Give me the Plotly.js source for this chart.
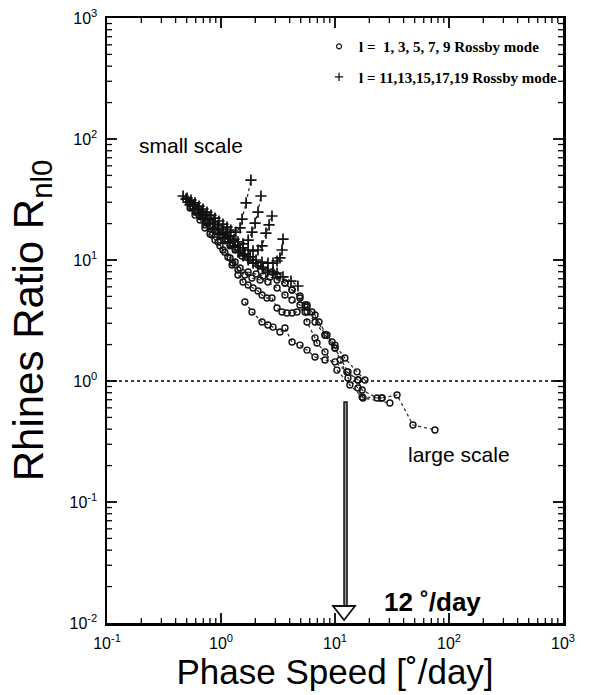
<!DOCTYPE html>
<html>
<head>
<meta charset="utf-8">
<script src="https://cdn.plot.ly/plotly-3.0.1.min.js"></script>
<style>html,body{margin:0;padding:0;background:#fff;}#chart{width:592px;height:695px;}</style>
</head>
<body>
<div id="chart"></div>
<script>
// ---- data: l = 1,3,5,7,9 Rossby modes (open circles) ----
var c1x = [1.62,1.87,2.29,2.58,2.86,3.29,3.64,4.20,4.93,5.68,6.68,8.17,10.0,12.7,15.9,17.3,23.4,25.8,35.0,48.3,75.3];
var c1y = [4.50,3.72,3.07,2.90,2.79,2.54,2.74,2.10,1.98,1.80,1.58,1.49,1.44,1.19,1.02,0.843,0.724,0.724,0.766,0.433,0.394];
var c2x = [1.25,1.41,1.56,1.73,1.91,2.11,2.29,2.53,2.80,3.10,3.43,3.79,4.20,4.64,5.68,6.68,8.17,9.42,10.0,11.1,13.0,15.9,17.6,30.3];
var c2y = [9.09,7.52,6.58,6.21,5.87,5.54,5.14,4.85,4.85,4.01,3.72,3.65,3.65,3.72,4.09,3.51,2.40,2.10,1.87,1.49,1.06,0.875,0.724,0.658];
var c3x = [0.724,0.834,0.942,1.04,1.15,1.27,1.41,1.62,1.87,2.20,2.58,3.10,3.64,4.20,4.93,5.46,5.68,6.68,6.95,8.17,10.4,13.5,17.3,25.8];
var c3y = [19.5,16.1,14.1,12.1,10.6,9.44,8.27,7.52,7.10,6.83,6.58,5.87,5.14,4.67,4.25,3.72,3.07,2.27,2.06,1.74,1.23,0.927,0.738,0.724];
var c4x = [0.592,0.655,0.724,0.801,0.886,0.979,1.08,1.20,1.33,1.47,1.73,2.03,2.34,2.69,3.10,3.64,4.20,4.93,5.46,5.68,6.68,8.17,10.0,13.0,15.9];
var c4y = [23.5,21.4,18.4,16.4,14.6,13.1,11.6,10.4,9.62,8.59,7.96,7.66,7.37,7.24,6.83,6.45,5.65,4.85,4.25,3.72,3.07,2.40,1.87,1.19,1.02];
var c5x = [0.535,0.592,0.655,0.724,0.801,0.886,0.979,1.08,1.20,1.33,1.53,1.80,2.11,2.43,2.80,3.16,3.64,4.20,4.93,5.68,6.28,7.24,8.51,10.0,12.2,15.6,18.3];
var c5y = [26.9,24.9,23.1,21.0,19.1,17.4,15.8,14.4,13.1,12.1,10.8,10.0,9.09,8.27,7.96,7.37,6.45,5.65,5.04,4.25,3.72,3.07,2.40,1.98,1.55,1.19,1.02];

// ---- data: l = 11,13,15,17,19 Rossby modes (plus) ----
var p1x = [0.465,0.504,0.546,0.592,0.641,0.695,0.753,0.817,0.886,0.960,1.04,1.13,1.22,1.35,1.47,1.53,1.66,1.83];
var p1y = [33.8,32.5,31.3,29.6,27.9,26.4,24.9,23.5,22.2,21.0,19.8,18.7,17.7,17.0,18.4,21.8,29.6,45.8];
var p2x = [0.493,0.535,0.579,0.628,0.681,0.738,0.801,0.869,0.942,1.02,1.11,1.20,1.30,1.41,1.56,1.73,1.87,1.99,2.11,2.24];
var p2y = [31.9,30.1,28.5,26.9,24.9,23.5,21.8,20.6,19.1,18.0,17.0,15.8,14.9,14.1,13.6,14.6,17.0,20.2,24.9,33.8];
var p3x = [0.514,0.568,0.628,0.695,0.769,0.851,0.942,1.04,1.15,1.27,1.41,1.56,1.73,1.91,2.11,2.29,2.48,2.64,2.80];
var p3y = [30.1,27.9,25.9,23.5,21.4,19.8,18.0,16.7,15.5,14.4,13.3,12.6,12.1,11.9,12.1,13.1,16.7,19.5,23.1];
var p4x = [0.535,0.592,0.655,0.724,0.801,0.886,0.979,1.08,1.20,1.33,1.47,1.62,1.80,2.03,2.29,2.58,2.86,3.10,3.29,3.43,3.50];
var p4y = [28.5,25.9,24.0,21.8,19.8,18.0,16.4,15.2,14.1,13.1,12.1,11.2,10.6,10.0,9.62,9.44,9.44,9.81,10.4,12.1,14.9];
var p5x = [0.568,0.628,0.695,0.769,0.851,0.942,1.04,1.15,1.27,1.41,1.56,1.73,1.91,2.11,2.34,2.58,2.86,3.10,3.50,4.11,4.73];
var p5y = [26.4,24.0,21.8,19.8,18.0,16.4,15.2,14.1,12.8,11.6,10.8,10.0,9.44,8.92,8.43,8.11,7.96,7.81,7.24,6.70,6.10];

var xRangeLog = [-1, 3];
var yRangeLog = [-2, 3];
var xTickVals = [0.1,1,10,100,1000];
var xTickText = ['10<sup>-1</sup>','10<sup>0</sup>','10<sup>1</sup>','10<sup>2</sup>','10<sup>3</sup>'];
var yTickVals = [0.01,0.1,1,10,100,1000];
var yTickText = ['10<sup>-2</sup>','10<sup>-1</sup>','10<sup>0</sup>','10<sup>1</sup>','10<sup>2</sup>','10<sup>3</sup>'];
var legendNames = ['<b>l =  1, 3, 5, 7, 9 Rossby mode</b>','<b>l = 11,13,15,17,19 Rossby mode</b>'];
var arrowSpeed = 12;   // deg/day
var arrowTop = 0.67;
var arrowShaftBottom = 0.0138;

var W = 592, H = 695, M = {l:107, r:29, t:18, b:72};
var pxPerDecX = (W - M.l - M.r) / (xRangeLog[1] - xRangeLog[0]);
var pxPerDecY = (H - M.t - M.b) / (yRangeLog[1] - yRangeLog[0]);

// minor tick positions (2..9 within each decade)
function minorTicks(d0, d1) {
  var out = [];
  for (var d = d0; d < d1; d++) for (var m = 2; m <= 9; m++) out.push(m * Math.pow(10, d));
  return out;
}
var xMinor = minorTicks(xRangeLog[0], xRangeLog[1]);
var yMinor = minorTicks(yRangeLog[0], yRangeLog[1]);

var circleSeries = [[c1x,c1y],[c2x,c2y],[c3x,c3y],[c4x,c4y],[c5x,c5y]];
var plusSeries = [[p1x,p1y],[p2x,p2y],[p3x,p3y],[p4x,p4y],[p5x,p5y]];

var circleMarker = {symbol:'circle-open', size:6, color:'#111', line:{width:1.4, color:'#111'}};
var plusMarker = {symbol:'cross-thin-open', size:8, color:'#111', line:{width:1.7, color:'#111'}};
var dotLine = {color:'#222', width:1.2, dash:'dot'};

var traces = [];
circleSeries.forEach(function(s){
  traces.push({x:s[0], y:s[1], type:'scatter', mode:'lines+markers', line:dotLine, marker:circleMarker, showlegend:false, hoverinfo:'skip'});
});
plusSeries.forEach(function(s){
  traces.push({x:s[0], y:s[1], type:'scatter', mode:'lines+markers', line:dotLine, marker:plusMarker, showlegend:false, hoverinfo:'skip'});
});
traces.push({x:[null], y:[null], type:'scatter', mode:'markers', name:legendNames[0], legendgroup:'a',
  marker:{symbol:'circle-open', size:5, color:'#111', line:{width:1.2, color:'#111'}}});
traces.push({x:[null], y:[null], type:'scatter', mode:'markers', name:legendNames[1], legendgroup:'b',
  marker:{symbol:'cross-thin-open', size:6, color:'#111', line:{width:1.3, color:'#111'}}});

// inward tick marks on all four sides, as shapes in axis coordinates
var shapes = [];
var xLo = Math.pow(10, xRangeLog[0]), xHi = Math.pow(10, xRangeLog[1]);
var yLo = Math.pow(10, yRangeLog[0]), yHi = Math.pow(10, yRangeLog[1]);
function addXTicks(vals, len, w) {
  var f = Math.pow(10, len / pxPerDecY);
  vals.forEach(function(v){
    shapes.push({type:'line', xref:'x', yref:'y', x0:v, x1:v, y0:yLo, y1:yLo * f, line:{color:'#000', width:w}});
    shapes.push({type:'line', xref:'x', yref:'y', x0:v, x1:v, y0:yHi, y1:yHi / f, line:{color:'#000', width:w}});
  });
}
function addYTicks(vals, len, w) {
  var f = Math.pow(10, len / pxPerDecX);
  vals.forEach(function(v){
    shapes.push({type:'line', xref:'x', yref:'y', y0:v, y1:v, x0:xLo, x1:xLo * f, line:{color:'#000', width:w}});
    shapes.push({type:'line', xref:'x', yref:'y', y0:v, y1:v, x0:xHi, x1:xHi / f, line:{color:'#000', width:w}});
  });
}
addXTicks(xTickVals.slice(1, -1), 10, 1.8);
addYTicks(yTickVals.slice(1, -1), 10, 1.8);
addXTicks(xMinor, 5, 1.3);
addYTicks(yMinor, 5, 1.3);

shapes.push({type:'line', xref:'paper', x0:0, x1:1, yref:'y', y0:1, y1:1, line:{color:'#000', width:1.5, dash:'dot'}});
shapes.push({type:'rect', xref:'x', xsizemode:'pixel', xanchor:arrowSpeed, x0:-3, x1:3, yref:'y', y0:arrowShaftBottom, y1:arrowTop,
  line:{color:'#111', width:1.5}, fillcolor:'#9a9a9a'});
shapes.push({type:'path', xref:'x', xsizemode:'pixel', xanchor:arrowSpeed, yref:'y', ysizemode:'pixel', yanchor:0.01,
  path:'M -11,17 L 11,17 L 0,3 Z', line:{color:'#111', width:1.8}, fillcolor:'#fff'});

var axisCommon = {
  type:'log', showgrid:false, zeroline:false, showline:true, linecolor:'#000', linewidth:2.5,
  mirror:true, ticks:'', tickmode:'array',
  tickfont:{family:'Liberation Sans, Arial, sans-serif', size:16, color:'#000'}
};

var layout = {
  width:W, height:H,
  margin:{l:M.l, r:M.r, t:M.t, b:M.b},
  paper_bgcolor:'#fff', plot_bgcolor:'#fff',
  font:{family:'Liberation Sans, Arial, sans-serif', color:'#000'},
  xaxis:Object.assign({}, axisCommon, {range:xRangeLog, tickvals:xTickVals, ticktext:xTickText, ticklabelstandoff:4,
    title:{text:'Phase Speed [˚/day]', font:{size:35, color:'#000'}, standoff:9}}),
  yaxis:Object.assign({}, axisCommon, {range:yRangeLog, tickvals:yTickVals, ticktext:yTickText, ticklabelstandoff:4}),
  showlegend:true,
  legend:{x:0.465, xanchor:'left', y:0.98, yanchor:'top', bgcolor:'rgba(0,0,0,0)',
    font:{family:'Liberation Serif, Times New Roman, serif', size:15, color:'#000'},
    traceorder:'grouped', tracegroupgap:8, itemwidth:30},
  shapes:shapes,
  annotations:[
    {xref:'paper', yref:'paper', x:-0.165, y:0.5, xanchor:'center', yanchor:'middle', textangle:-90,
      text:'Rhines Ratio R<sub>nl0</sub>', showarrow:false, font:{size:42, color:'#000'}},
    {xref:'paper', yref:'paper', x:0.185, y:0.79, xanchor:'center', yanchor:'middle', text:'small scale', showarrow:false, font:{size:21, color:'#000'}},
    {xref:'paper', yref:'paper', x:0.772, y:0.278, xanchor:'center', yanchor:'middle', text:'large scale', showarrow:false, font:{size:21, color:'#000'}},
    {xref:'paper', yref:'paper', x:0.713, y:0.035, xanchor:'center', yanchor:'middle', text:'<b>12 ˚/day</b>', showarrow:false, font:{size:26, color:'#000'}}
  ]
};

Plotly.newPlot('chart', traces, layout, {staticPlot:true, displayModeBar:false});
</script>
</body>
</html>
